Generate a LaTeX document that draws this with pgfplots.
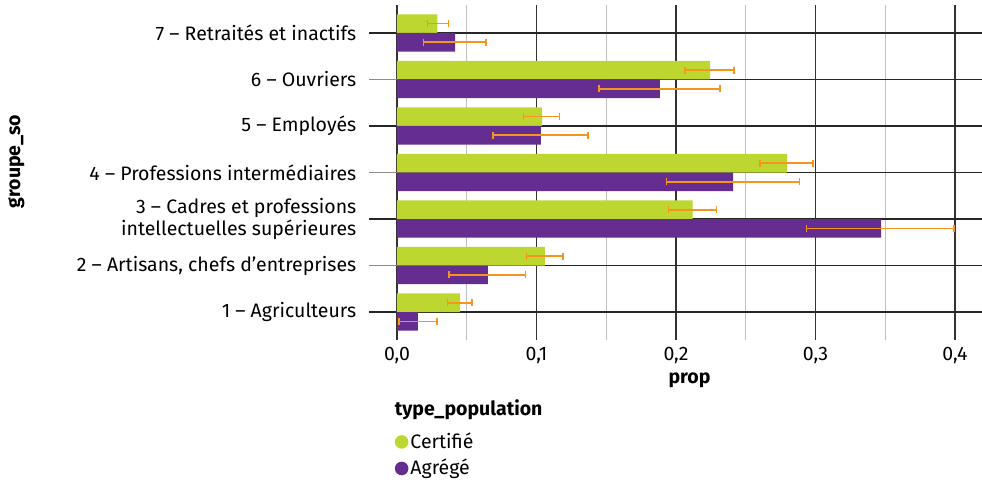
\documentclass[border=0pt]{standalone}
\usepackage{pgfplots}
\pgfplotsset{compat=1.18}
\usepackage{pgfplotstable}
\usepackage{fontspec}
\setmainfont{Fira Sans}
\definecolor{cert}{HTML}{BED630}
\definecolor{agr}{HTML}{652D8F}
\definecolor{errc}{HTML}{F7941D}

\pgfplotstableread{
y x xm xp
1 0.0452 0.0089 0.0086
2 0.1060 0.0133 0.0130
3 0.2120 0.0175 0.0170
4 0.2796 0.0194 0.0184
5 0.1040 0.0132 0.0126
6 0.2244 0.0180 0.0172
7 0.0290 0.0070 0.0080
}\certtab

\pgfplotstableread{
y x xm xp
1 0.0150 0.0136 0.0135
2 0.0652 0.0279 0.0270
3 0.3470 0.0536 0.0523
4 0.2409 0.0476 0.0475
5 0.1032 0.0342 0.0338
6 0.1885 0.0439 0.0430
7 0.0416 0.0226 0.0220
}\agrtab

\begin{document}
\fontsize{19.5}{22}\selectfont
\begin{tikzpicture}
\useasboundingbox (-397pt,-142pt) rectangle (585pt,340pt);
\begin{axis}[
  at={(0pt,0pt)}, anchor=south west,
  scale only axis, width=585pt, height=335pt,
  xmin=0, xmax=0.41935, ymin=0.4, ymax=7.6,
  clip=false,
  axis line style={draw=none},
  font=\fontsize{19.5}{22}\selectfont,
  xtick={0.1,0.2,0.3,0.4},
  extra x ticks={0},
  extra x tick style={grid style={black!40, line width=1.3pt}},
  minor xtick={0.05,0.15,0.25,0.35},
  xmajorgrids, xminorgrids,
  major x grid style={black!80, line width=1.3pt},
  minor x grid style={black!25, line width=1.3pt},
  xtick style={draw=none},
  minor x tick style={draw=none},
  /pgf/number format/fixed,
  /pgf/number format/fixed zerofill,
  /pgf/number format/precision=1,
  /pgf/number format/use comma,
  /pgf/number format/assume math mode=true,
  ytick={1,3,5,7},
  yticklabels={1 – Agriculteurs, {3 – Cadres et professions\\intellectuelles supérieures}, 5 – Employés, 7 – Retraités et inactifs},
  extra y ticks={2,4,6},
  extra y tick labels={{2 – Artisans, chefs d’entreprises}, 4 – Professions intermédiaires, 6 – Ouvriers},
  extra y tick style={major grid style={black!45, line width=1.3pt}, ytick style={black!45, line width=1.3pt}},
  ymajorgrids,
  major y grid style={black!85, line width=1.3pt},
  ytick style={black!85, line width=1.3pt},
  ytick pos=left, xtick pos=bottom,
  xtick align=inside, ytick align=outside, major tick length=28pt,
  yticklabel style={align=right, xshift=-6pt},
  xticklabel style={yshift=-1pt},
  xlabel={\textbf{prop}},
  xlabel style={yshift=5pt},
  ylabel={\textbf{groupe\_so}},
  ylabel style={at={(axis description cs:-0.651,0.533)}, anchor=center},
  legend style={at={(axis description cs:-0.004,-0.27)}, anchor=north west, draw=none, fill=none, inner sep=0pt, row sep=4pt, font=\fontsize{19.5}{22}\selectfont, legend cell align=left},
  legend image code/.code={\fill[#1] (0.3em,0) circle (6.8pt);},
]
\addplot[xbar, bar width=0.4, bar shift=0pt, fill=cert, draw=none,
  error bars/.cd, x dir=both, x explicit,
  error bar style={errc, line width=1.6pt},
  error mark options={errc, line width=1.6pt, mark size=3.5pt, rotate=90}]
  table[x=x, y expr=\thisrow{y}+0.2, x error plus=xp, x error minus=xm] {\certtab};
\addplot[xbar, bar width=0.4, bar shift=0pt, fill=agr, draw=none,
  error bars/.cd, x dir=both, x explicit,
  error bar style={errc, line width=1.6pt},
  error mark options={errc, line width=1.6pt, mark size=3.5pt, rotate=90}]
  table[x=x, y expr=\thisrow{y}-0.2, x error plus=xp, x error minus=xm] {\agrtab};
\legend{Certifié, Agrégé}
\node[anchor=west, font=\bfseries\fontsize{19.5}{22}\selectfont, inner sep=0pt] at (axis description cs:-0.004,-0.209) {type\_population};
\end{axis}
\end{tikzpicture}
\end{document}
